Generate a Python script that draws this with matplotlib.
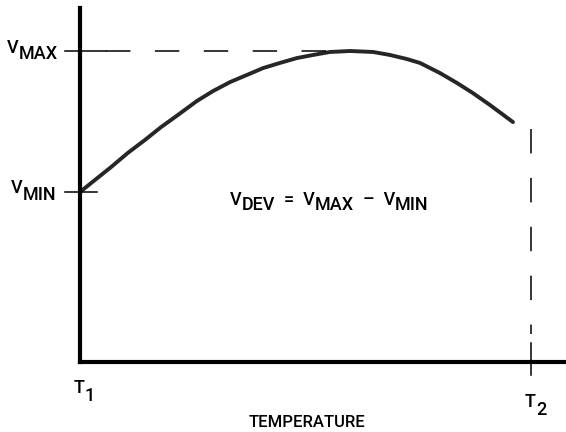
import matplotlib
matplotlib.use("Agg")
import matplotlib.pyplot as plt

# temperature (T1 = 0, T2 = 1) and output voltage (VMIN = 0, VMAX = 1)
temp = [0.0, 0.033, 0.069, 0.106, 0.144, 0.180, 0.217, 0.259, 0.295, 0.333,
        0.370, 0.406, 0.443, 0.481, 0.517, 0.554, 0.599, 0.650, 0.687, 0.725,
        0.754, 0.798, 0.836, 0.871, 0.909, 0.960]
volt = [0.0, 0.085, 0.177, 0.277, 0.369, 0.461, 0.546, 0.645, 0.716, 0.780,
        0.830, 0.879, 0.915, 0.950, 0.972, 0.993, 1.0, 0.993, 0.972, 0.943,
        0.915, 0.844, 0.773, 0.702, 0.617, 0.496]

W, H = 566, 432
FONT = ["Roboto", "DejaVu Sans"]
FS = 13
WT = "medium"

fig = plt.figure(figsize=(W / 100, H / 100), dpi=100)
ax = fig.add_axes([80 / W, (H - 362) / H, (W - 80) / W, 354 / H])
ax.set_xlim(0, (W - 80) / 451)
ax.set_ylim(-170 / 141, 1 + 43 / 141)

for s in ["top", "right"]:
    ax.spines[s].set_visible(False)
for s in ["left", "bottom"]:
    ax.spines[s].set_linewidth(3)
ax.set_xticks([])
ax.set_yticks([])

# curve
ax.plot(temp, volt, color="#262626", lw=2.8, solid_capstyle="round")

# dashed guides
ax.plot([0.058, 0.56], [volt[16], volt[16]], color="black", lw=1.1, dashes=(16, 16))
ax.plot([1, 1], [0.45, -1.01], color="black", lw=1.1, dashes=(16, 16))

# short tick marks
ax.plot([-0.033, 0.058], [1, 1], color="black", lw=1.1, clip_on=False)
ax.plot([-0.033, 0.038], [0, 0], color="black", lw=1.1, clip_on=False)
ax.plot([1, 1], [-1.071, -1.298], color="black", lw=1.1, clip_on=False)


def label(x, y, pieces):
    # pieces: (text, vertical shift in px relative to previous piece)
    prev = fig.text(x / W, 1 - y / H, pieces[0][0], fontsize=FS,
                    family=FONT, weight=WT, va="baseline", ha="left")
    for s, dy in pieces[1:]:
        prev = fig.add_artist(plt.Annotation(
            s, xy=(1, 0), xycoords=prev, xytext=(0, dy * 0.72),
            textcoords="offset points", fontsize=FS, family=FONT,
            weight=WT, va="bottom", ha="left"))


label(7, 53, [("V", 0), ("MAX", -6)])
label(11, 193, [("V", 0), ("MIN", -7)])
label(74, 393, [("T", 0), ("1", -8)])
label(525, 407, [("T", 0), ("2", -8)])
label(230, 205, [("V", 0), ("DEV", -5), ("  =  V", 5), ("MAX", -5),
                 ("  \u2013  V", 5), ("MIN", -5)])
fig.text(307 / W, 1 - 427 / H, "TEMPERATURE", fontsize=12, family=FONT,
         weight=WT, ha="center", va="baseline")

fig.savefig("out.png", dpi=100)
